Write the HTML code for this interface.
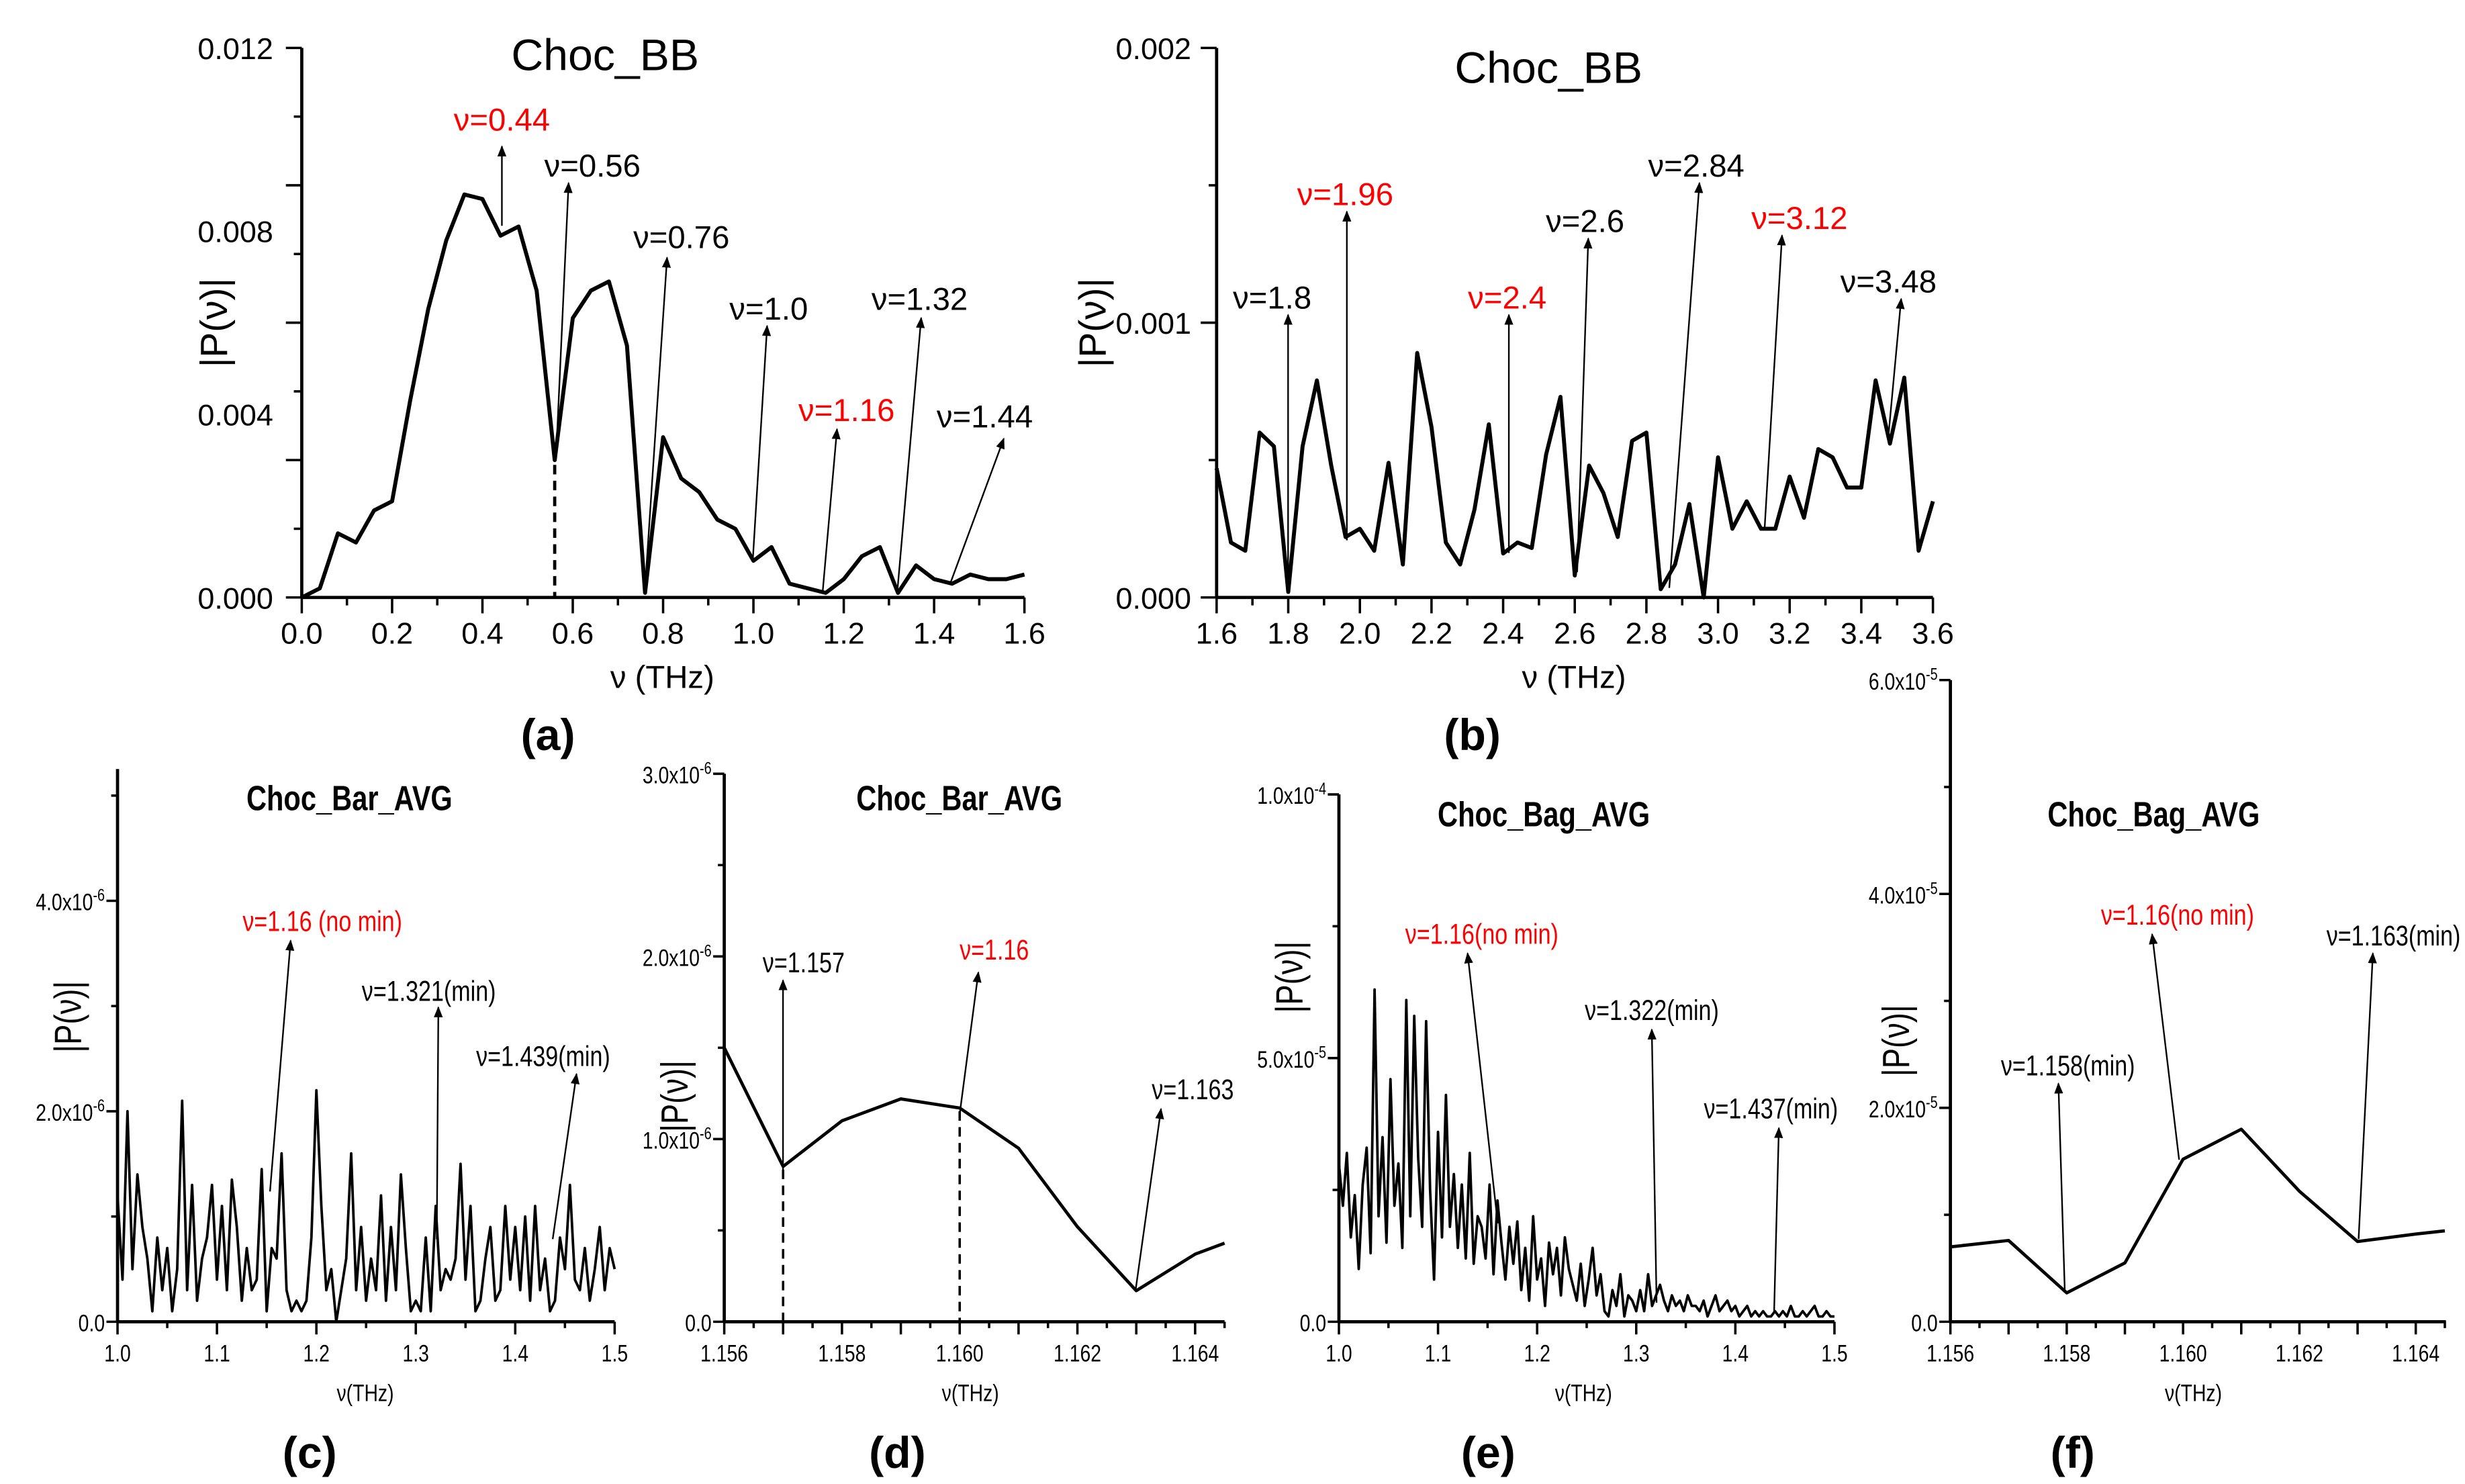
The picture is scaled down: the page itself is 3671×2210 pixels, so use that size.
<!DOCTYPE html>
<html><head><meta charset="utf-8"><style>
html,body{margin:0;padding:0;background:#fff}
svg{display:block}
text{font-family:"Liberation Sans",sans-serif}
</style></head><body>
<svg id="fig" width="3671" height="2210" viewBox="0 0 1552 934" xmlns="http://www.w3.org/2000/svg">
<defs><marker id="ah" viewBox="0 0 10 10" refX="9" refY="5" markerWidth="7" markerHeight="9" orient="auto" markerUnits="userSpaceOnUse"><path d="M0,1 L10,5 L0,9 z" fill="#000"/></marker></defs>
<g id="root"></g>
</svg>
<script>
// ---- data ----
const aX = [0,0.04,0.08,0.12,0.16,0.2,0.24,0.28,0.32,0.36,0.4,0.44,0.48,0.52,0.56,0.6,0.64,0.68,0.72,0.76,0.8,0.84,0.88,0.92,0.96,1.0,1.04,1.08,1.12,1.16,1.2,1.24,1.28,1.32,1.36,1.4,1.44,1.48,1.52,1.56,1.6];
const aY = [0,0.0002,0.0014,0.0012,0.0019,0.0021,0.0043,0.0063,0.0078,0.0088,0.0087,0.0079,0.0081,0.0067,0.0030,0.0061,0.0067,0.0069,0.0055,0.0001,0.0035,0.0026,0.0023,0.0017,0.0015,0.0008,0.0011,0.0003,0.0002,0.0001,0.0004,0.0009,0.0011,0.0001,0.0007,0.0004,0.0003,0.0005,0.0004,0.0004,0.0005];
const bY = [0.00047,0.0002,0.00017,0.0006,0.00055,0.00002,0.00055,0.00079,0.00048,0.00022,0.00025,0.00017,0.00049,0.00012,0.00089,0.00062,0.0002,0.00012,0.00032,0.00063,0.00016,0.0002,0.00018,0.00052,0.00073,0.00008,0.00048,0.00038,0.00022,0.00057,0.0006,0.00003,0.00012,0.00034,0.0,0.00051,0.00025,0.00035,0.00025,0.00025,0.00044,0.00029,0.00054,0.00051,0.0004,0.0004,0.00079,0.00056,0.0008,0.00017,0.00035];
const cY = [1.2,0.4,2.0,0.5,1.4,0.9,0.6,0.1,0.8,0.3,0.7,0.1,0.5,2.1,0.3,1.3,0.2,0.6,0.8,1.3,0.4,1.1,0.3,1.35,0.9,0.2,0.7,0.3,0.4,1.45,0.1,0.7,0.6,1.6,0.3,0.1,0.2,0.1,0.2,0.8,2.2,1.1,0.3,0.5,0.0,0.3,0.6,1.6,0.3,0.9,0.2,0.6,0.3,1.2,0.2,0.9,0.3,1.4,0.7,0.1,0.2,0.1,0.8,0.1,1.1,0.3,0.5,0.4,0.6,1.5,0.4,1.1,0.1,0.2,0.6,0.9,0.2,0.3,1.1,0.4,0.9,0.3,1.0,0.2,1.1,0.3,0.6,0.1,0.2,0.8,0.5,1.3,0.4,0.3,0.7,0.2,0.5,0.9,0.3,0.7,0.5];
const dX = [1.156,1.157,1.158,1.159,1.160,1.161,1.162,1.163,1.164,1.1645];
const dY = [1.5,0.85,1.1,1.22,1.17,0.95,0.52,0.17,0.37,0.43];
const eY = [3.0,2.2,3.2,1.6,2.4,1.0,2.6,3.3,1.3,6.3,2.0,3.5,1.5,4.6,2.2,3.0,1.4,6.1,2.0,5.8,3.1,1.8,5.7,2.5,0.8,3.6,1.6,4.3,1.8,2.8,1.4,2.6,1.2,3.2,1.1,2.0,1.8,1.2,2.6,0.9,2.3,1.5,0.8,1.8,1.1,1.9,0.6,1.4,0.4,2.0,0.8,1.2,0.3,1.5,0.9,1.4,0.5,1.6,1.0,0.7,0.4,1.1,0.3,0.8,1.4,0.5,0.9,0.2,0.1,0.6,0.3,0.9,0.1,0.5,0.4,0.2,0.6,0.2,0.9,0.3,0.5,0.7,0.4,0.2,0.5,0.3,0.4,0.2,0.5,0.3,0.3,0.2,0.4,0.1,0.3,0.5,0.2,0.3,0.4,0.2,0.3,0.1,0.2,0.3,0.1,0.2,0.1,0.2,0.1,0.1,0.2,0.1,0.2,0.1,0.3,0.1,0.1,0.2,0.1,0.2,0.3,0.1,0.1,0.2,0.1,0.1];
const fX = [1.156,1.157,1.158,1.159,1.160,1.161,1.162,1.163,1.164,1.1645];
const fY = [0.7,0.76,0.27,0.55,1.52,1.8,1.22,0.75,0.82,0.85];
const aTicksY = ["0.000","0.004","0.008","0.012"];
const bTicksY = ["0.000","0.001","0.002"];

const NS="http://www.w3.org/2000/svg";
const root=document.getElementById('root');
const NARROW=0.8;
function mk(tag,attrs,parent){const e=document.createElementNS(NS,tag);for(const k in attrs)e.setAttribute(k,attrs[k]);(parent||root).appendChild(e);return e;}
function narrowT(x,y,rot){let s='';if(rot)s+='rotate(-90 '+x+' '+y+') ';s+='translate('+x+' '+y+') scale('+NARROW+' 1) translate('+(-x)+' '+(-y)+')';return s;}
function txt(s,x,y,size,opt,parent){opt=opt||{};const t=mk('text',{x:x,y:y,'font-size':size,fill:opt.fill||'#000','text-anchor':opt.anchor||'middle'},parent);if(opt.weight)t.setAttribute('font-weight',opt.weight);if(opt.family)t.setAttribute('font-family',opt.family);
 if(opt.n){t.setAttribute('transform',narrowT(x,y,opt.rot));}else if(opt.rot)t.setAttribute('transform','rotate(-90 '+x+' '+y+')');t.textContent=s;return t;}
function sci(m,e,x,y,size,parent){const t=mk('text',{x:x,y:y,'font-size':size,'text-anchor':'end',transform:narrowT(x,y,false)},parent);const a=document.createElementNS(NS,'tspan');a.textContent=m+'x10';t.appendChild(a);const b=document.createElementNS(NS,'tspan');b.setAttribute('dy',-6);b.setAttribute('font-size',size*0.7);b.textContent=e;t.appendChild(b);return t;}
function lin(d0,d1,p0,p1){return v=>p0+(v-d0)/(d1-d0)*(p1-p0);}
function line(x1,y1,x2,y2,w,parent,dash){const l=mk('line',{x1:x1,y1:y1,x2:x2,y2:y2,stroke:'#000','stroke-width':w||1},parent);if(dash)l.setAttribute('stroke-dasharray',dash);return l;}
function arrow(x1,y1,x2,y2,g){const l=line(x1,y1,x2,y2,1,g);l.setAttribute('marker-end','url(#ah)');}
function series(xs,ys,sx,sy,g,w){const pts=xs.map((x,i)=>sx(x).toFixed(2)+','+sy(ys[i]).toFixed(2)).join(' ');const p=mk('polyline',{points:pts,fill:'none',stroke:'#000','stroke-width':w||2,'stroke-linejoin':'round'},g);return p;}
function panel(name){const g=mk('g',{});return g;}

// ---------- Panel (a) ----------
(function(){
 const g=panel('panel-a');
 const sx=lin(0,1.6,190,645), sy=lin(0,0.012,376,30);
 line(190,30,190,376,2,g);line(190,376,645,376,2,g);
 for(let i=0;i<=16;i++){const x=sx(i*0.1);line(x,376,x,i%2?381:386,1.5,g);}
 for(let i=0;i<=8;i++){line(190,sy(i*0.0015),i%2?185:180,sy(i*0.0015),1.5,g);}
 for(let i=0;i<=8;i++){const t=txt((i*0.2).toFixed(1),sx(i*0.2),405,19,{},g);}
 aTicksY.forEach((s,i)=>{const t=txt(s,172,sy(i*0.004)+7,19,{anchor:'end'},g);});
 const xt=txt('ν (THz)',417,433,20,{},g);
 const yt=txt('|P(ν)|',143,203,24,{rot:1},g);
 const ti=txt('Choc_BB',381,44,28,{},g);
 series(aX,aY,sx,sy,g,2.5);
 line(sx(0.56),sy(0.0030)+3,sx(0.56),376,2,g,'6,4');
 const an=[['ν=0.44',316,82,'red',316,142,316,92],['ν=0.56',373,111,'#000',350,290,358,115],['ν=0.76',429,156,'#000',406,372,420,162],['ν=1.0',484,201,'#000',474,352,483,205],['ν=1.16',533,265,'red',518,372,527,270],['ν=1.32',579,195,'#000',565,372,580,200],['ν=1.44',620,269,'#000',598,368,632,276]];
 an.forEach(a=>{const t=txt(a[0],a[1],a[2],20,{fill:a[3]},g);arrow(a[4],a[5],a[6],a[7],g);});
 const lb=txt('(a)',345,472,28,{weight:'bold',family:'Liberation Serif, serif'},g);
})();

// ---------- Panel (b) ----------
(function(){
 const g=panel('panel-b');
 const sx=lin(1.6,3.6,766,1217), sy=lin(0,0.002,376,30);
 const bX=bY.map((_,i)=>1.6+i*0.04);
 line(766,30,766,376,2,g);line(766,376,1217,376,2,g);
 for(let i=0;i<=20;i++){const x=sx(1.6+i*0.1);line(x,376,x,i%2?381:386,1.5,g);}
 for(let i=0;i<=4;i++){line(766,sy(i*0.0005),i%2?761:756,sy(i*0.0005),1.5,g);}
 for(let i=0;i<=10;i++){const t=txt((1.6+i*0.2).toFixed(1),sx(1.6+i*0.2),405,19,{},g);}
 bTicksY.forEach((s,i)=>{const t=txt(s,750,sy(i*0.001)+7,19,{anchor:'end'},g);});
 const xt=txt('ν (THz)',991,433,20,{},g);
 const yt=txt('|P(ν)|',696,203,24,{rot:1},g);
 const ti=txt('Choc_BB',975,52,28,{},g);
 series(bX,bY,sx,sy,g,2.5);
 const an=[['ν=1.8',801,194,'#000',811,372,811,198],['ν=1.96',847,129,'red',848,340,848,133],['ν=2.4',949,194,'red',950,348,950,198],['ν=2.6',998,146,'#000',993,360,1000,150],['ν=2.84',1068,111,'#000',1051,370,1070,115],['ν=3.12',1133,144,'red',1111,333,1122,148],['ν=3.48',1189,184,'#000',1189,274,1197,188]];
 an.forEach(a=>{const t=txt(a[0],a[1],a[2],20,{fill:a[3]},g);arrow(a[4],a[5],a[6],a[7],g);});
 const lb=txt('(b)',927,472,28,{weight:'bold',family:'Liberation Serif, serif'},g);
})();

function bottomPanel(cfg){
 const g=panel(cfg.name);
 const sx=lin(cfg.x0,cfg.x1,cfg.px0,cfg.px1), sy=lin(0,cfg.ymax,832,cfg.ptop);
 line(cfg.px0,cfg.axTop,cfg.px0,832,2,g);line(cfg.px0,832,cfg.axRight,832,2,g);
 cfg.xMinor.forEach((v,i)=>{const x=sx(v);line(x,832,x,i%2?836:840,1.5,g);});
 cfg.xLabels.forEach(v=>{const t=txt(cfg.xfmt(v),sx(v),857,15,{n:1},g);});
 cfg.yMinor.forEach((v,i)=>{line(cfg.px0,sy(v),cfg.px0-(i%2?4:7),sy(v),1.5,g);});
 cfg.yLabels.forEach(l=>{let t;if(l[1]){t=sci(l[0],l[1],cfg.px0-8,sy(l[2])+6,15,g);}else{t=txt(l[0],cfg.px0-8,sy(l[2])+6,15,{anchor:'end',n:1},g);}});
 const xt=txt('ν(THz)',cfg.xtitle,882,15,{n:1},g);
 const yt=txt('|P(ν)|',cfg.ytx,cfg.yty,24,{rot:1,n:1},g);
 const ti=txt(cfg.title,cfg.tx,cfg.ty,22,{weight:'bold',n:1},g);
 series(cfg.xs,cfg.ys,sx,sy,g,cfg.w);
 (cfg.dash||[]).forEach(d=>line(sx(d[0]),sy(d[1])+2,sx(d[0]),832,1.5,g,'6,4'));
 cfg.an.forEach(a=>{const t=txt(a[0],a[1],a[2],18,{fill:a[3],n:1},g);arrow(a[4],a[5],a[6],a[7],g);});
 const lb=txt(cfg.label,cfg.lx,924,28,{weight:'bold',family:'Liberation Serif, serif'},g);
}
const tenths=[]; for(let i=0;i<=10;i++) tenths.push(1.0+i*0.05);
const majors=[1.0,1.1,1.2,1.3,1.4,1.5];
const thous=[]; for(let i=0;i<=17;i++) thous.push(1.156+i*0.0005);
const thMaj=[1.156,1.158,1.160,1.162,1.164];

bottomPanel({name:'panel-c',x0:1,x1:1.5,px0:74,px1:387,axRight:387,axTop:484,ymax:4,ptop:567,xs:cY.map((_,i)=>1+i*0.005),ys:cY,w:1.6,
 xMinor:tenths,xLabels:majors,xfmt:v=>v.toFixed(1),yMinor:[0,1,2,3,4,5],yLabels:[['0.0',null,0],['2.0','-6',2],['4.0','-6',4]],
 xtitle:230,ytx:51,yty:640,title:'Choc_Bar_AVG',tx:220,ty:510,
 an:[['ν=1.16 (no min)',203,586,'red',170,750,183,592],['ν=1.321(min)',270,630,'#000',275,780,276,634],['ν=1.439(min)',342,671,'#000',348,780,363,676]],label:'(c)',lx:195});

bottomPanel({name:'panel-d',x0:1.156,x1:1.1645,px0:456,px1:771,axRight:771,axTop:487,ymax:3,ptop:487,xs:dX,ys:dY,w:2,
 xMinor:thous,xLabels:thMaj,xfmt:v=>v.toFixed(3),yMinor:[0,0.5,1,1.5,2,2.5,3],yLabels:[['0.0',null,0],['1.0','-6',1],['2.0','-6',2],['3.0','-6',3]],
 xtitle:611,ytx:433,yty:690,title:'Choc_Bar_AVG',tx:604,ty:510,dash:[[1.157,0.85],[1.160,1.17]],
 an:[['ν=1.157',506,612,'#000',493,737,493,617],['ν=1.16',626,604,'red',604,703,616,612],['ν=1.163',751,692,'#000',715,812,731,698]],label:'(d)',lx:565});

bottomPanel({name:'panel-e',x0:1,x1:1.5,px0:843,px1:1155,axRight:1155,axTop:500,ymax:10,ptop:500,xs:eY.map((_,i)=>1+i*0.004),ys:eY,w:1.6,
 xMinor:tenths,xLabels:majors,xfmt:v=>v.toFixed(1),yMinor:[0,2.5,5,7.5,10],yLabels:[['0.0',null,0],['5.0','-5',5],['1.0','-4',10]],
 xtitle:997,ytx:820,yty:615,title:'Choc_Bag_AVG',tx:972,ty:520,
 an:[['ν=1.16(no min)',933,594,'red',943,770,924,600],['ν=1.322(min)',1040,642,'#000',1043,820,1040,648],['ν=1.437(min)',1115,704,'#000',1117,826,1120,710]],label:'(e)',lx:937});

bottomPanel({name:'panel-f',x0:1.156,x1:1.164,px0:1228,px1:1521,axRight:1540,axTop:428,ymax:6,ptop:428,xs:fX,ys:fY,w:2,
 xMinor:thous,xLabels:thMaj,xfmt:v=>v.toFixed(3),yMinor:[0,1,2,3,4,5,6],yLabels:[['0.0',null,0],['2.0','-5',2],['4.0','-5',4],['6.0','-5',6]],
 xtitle:1381,ytx:1202,yty:655,title:'Choc_Bag_AVG',tx:1356,ty:520,
 an:[['ν=1.158(min)',1302,677,'#000',1300,812,1296,682],['ν=1.16(no min)',1371,582,'red',1372,730,1355,588],['ν=1.163(min)',1507,595,'#000',1485,780,1494,600]],label:'(f)',lx:1305});
</script>
</body></html>
